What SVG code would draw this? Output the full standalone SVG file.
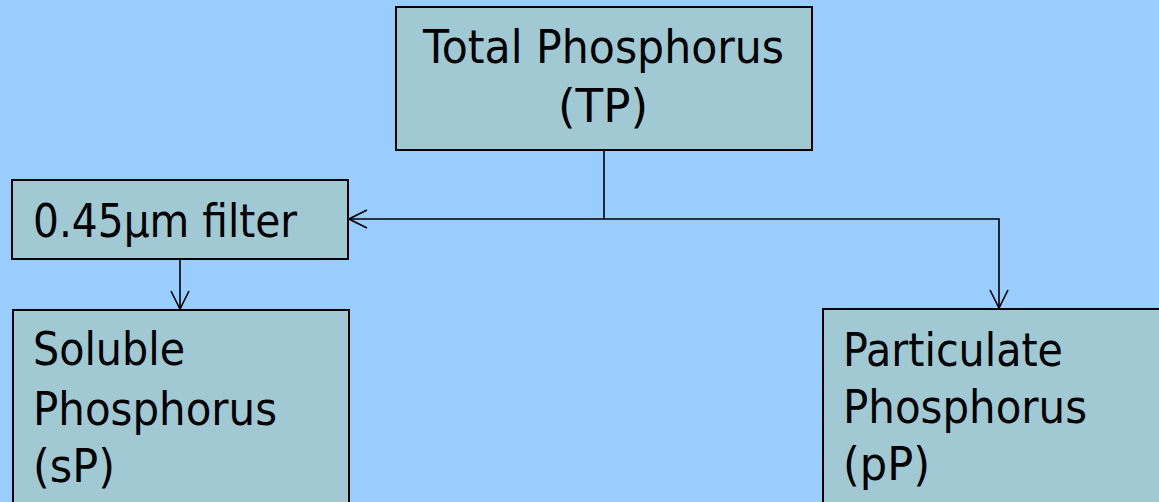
<svg xmlns="http://www.w3.org/2000/svg" width="1159" height="502" viewBox="0 0 1159 502">
  <defs>
    <marker id="open-arrow" viewBox="0 0 20 20" refX="19" refY="10" markerWidth="20" markerHeight="20" markerUnits="userSpaceOnUse" orient="auto">
      <path d="M1,1 L19,10 L1,19" fill="none" stroke="#000" stroke-width="1.6"/>
    </marker>
    <style>
      .box { fill: #A0C9D3; stroke: #000; stroke-width: 2; }
      .label { font-family: "DejaVu Sans", Verdana, sans-serif; font-size: 46px; fill: #000; }
      .wire { fill: none; stroke: #000; stroke-width: 1.6; }
    </style>
  </defs>

  <rect width="1159" height="502" fill="#99CCFF"/>

  <g id="connectors">
    <line class="wire" x1="604" y1="151" x2="604" y2="219"/>
    <line class="wire" x1="604" y1="219" x2="349" y2="219" marker-end="url(#open-arrow)"/>
    <polyline class="wire" points="604,219 999,219 999,308" marker-end="url(#open-arrow)"/>
    <line class="wire" x1="180" y1="260" x2="180" y2="309" marker-end="url(#open-arrow)"/>
  </g>

  <g id="total-phosphorus">
    <rect class="box" x="396" y="7" width="416" height="143"/>
    <text class="label" x="423" y="63" textLength="361" lengthAdjust="spacingAndGlyphs">Total Phosphorus</text>
    <text class="label" x="558" y="122" textLength="90" lengthAdjust="spacingAndGlyphs">(TP)</text>
  </g>

  <g id="filter">
    <rect class="box" x="12" y="180" width="336" height="79"/>
    <text class="label" x="33" y="237" textLength="264" lengthAdjust="spacingAndGlyphs">0.45µm filter</text>
  </g>

  <g id="soluble-phosphorus">
    <rect class="box" x="13" y="310" width="336" height="200"/>
    <text class="label" x="33" y="365" textLength="152" lengthAdjust="spacingAndGlyphs">Soluble</text>
    <text class="label" x="33" y="425" textLength="244" lengthAdjust="spacingAndGlyphs">Phosphorus</text>
    <text class="label" x="33" y="482" textLength="82" lengthAdjust="spacingAndGlyphs">(sP)</text>
  </g>

  <g id="particulate-phosphorus">
    <rect class="box" x="823" y="309" width="345" height="200"/>
    <text class="label" x="843" y="366" textLength="220" lengthAdjust="spacingAndGlyphs">Particulate</text>
    <text class="label" x="843" y="423" textLength="244" lengthAdjust="spacingAndGlyphs">Phosphorus</text>
    <text class="label" x="843" y="480" textLength="87" lengthAdjust="spacingAndGlyphs">(pP)</text>
  </g>
</svg>
